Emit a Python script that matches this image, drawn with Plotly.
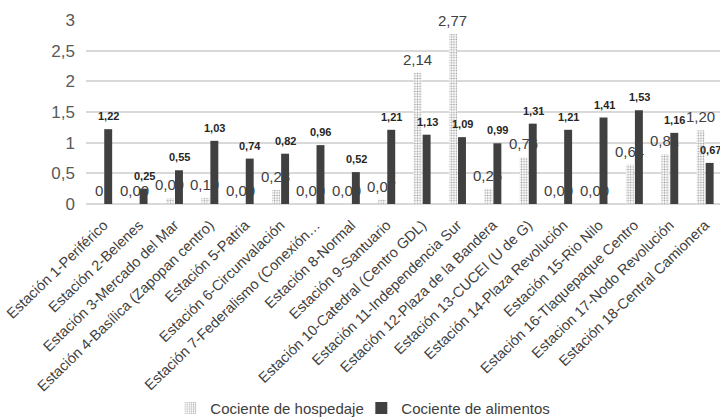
import plotly.graph_objects as go

# Station names along the x axis
stations = [
    "Estación 1-Periférico",
    "Estación 2-Belenes",
    "Estación 3-Mercado del Mar",
    "Estación 4-Basílica (Zapopan centro)",
    "Estación 5-Patria",
    "Estación 6-Circunvalación",
    "Estación 7-Federalismo (Conexión…",
    "Estación 8-Normal",
    "Estación 9-Santuario",
    "Estación 10-Catedral (Centro GDL)",
    "Estación 11-Independencia Sur",
    "Estación 12-Plaza de la Bandera",
    "Estación 13-CUCEI (U de G)",
    "Estación 14-Plaza Revolución",
    "Estación 15-Rio Nilo",
    "Estación 16-Tlaquepaque Centro",
    "Estacion 17-Nodo Revolución",
    "Estación 18-Central Camionera",
]

# Lodging quotient per station
hospedaje = [0, 0.00, 0.09, 0.10, 0.00, 0.23, 0.00, 0.00, 0.07,
             2.14, 2.77, 0.25, 0.76, 0.00, 0.00, 0.64, 0.81, 1.20]
# Number of decimals shown in each lodging label
hospedaje_decimals = [0] + [2] * 17

# Food quotient per station
alimentos = [1.22, 0.25, 0.55, 1.03, 0.74, 0.82, 0.96, 0.52, 1.21,
             1.13, 1.09, 0.99, 1.31, 1.21, 1.41, 1.53, 1.16, 0.67]

y_ticks = [0, 0.5, 1, 1.5, 2, 2.5, 3]


def fmt(v, d=2):
    return f"{v:.{d}f}".replace(".", ",")


FONT = "Liberation Sans, Arial, sans-serif"
DARK = "#404040"

fig = go.Figure()
fig.add_trace(go.Bar(
    name="Cociente de hospedaje",
    x=stations,
    y=hospedaje,
    marker=dict(
        color="white",
        line=dict(width=0),
        pattern=dict(shape=".", fgcolor="#404040", bgcolor="white",
                     size=2.6, solidity=0.35),
    ),
))
fig.add_trace(go.Bar(
    name="Cociente de alimentos",
    x=stations,
    y=alimentos,
    marker=dict(color=DARK, line=dict(width=0)),
))

# Value labels above each bar
annotations = []
for i, (h, a) in enumerate(zip(hospedaje, alimentos)):
    annotations.append(dict(
        x=i, y=h, xref="x", yref="y", xshift=-5, yshift=3,
        yanchor="bottom", showarrow=False,
        text=fmt(h, hospedaje_decimals[i]),
        font=dict(family=FONT, size=15, color=DARK),
    ))
    annotations.append(dict(
        x=i, y=a, xref="x", yref="y", xshift=5, yshift=5,
        yanchor="bottom", showarrow=False,
        text=f"<b>{fmt(a)}</b>",
        font=dict(family=FONT, size=11, color="#262626"),
    ))

fig.update_layout(
    width=720, height=419,
    margin=dict(l=86, r=0, t=20, b=215, autoexpand=False),
    paper_bgcolor="white", plot_bgcolor="white",
    barmode="group", bargap=0.49, bargroupgap=0.12,
    separators=",.",
    font=dict(family=FONT, color=DARK),
    annotations=annotations,
    showlegend=True,
    legend=dict(
        orientation="h", x=0.133, xanchor="left", xref="paper",
        y=-1.11, yanchor="middle",
        font=dict(family=FONT, size=15, color=DARK),
        itemwidth=30, traceorder="normal",
        entrywidth=146, entrywidthmode="pixels",
    ),
    xaxis=dict(
        range=[-0.5, 17.42],
        tickangle=-44,
        tickfont=dict(family=FONT, size=14.5, color=DARK),
        showgrid=False, showline=False, ticks="",
        ticklabelstandoff=9,
        automargin=False,
    ),
    yaxis=dict(
        range=[0, 3],
        tickvals=y_ticks,
        tickfont=dict(family=FONT, size=17, color="#595959"),
        showgrid=True, gridcolor="#d9d9d9", gridwidth=1.5,
        zeroline=True, zerolinecolor="#d9d9d9", zerolinewidth=1.5,
        showline=False, ticks="", ticklabelstandoff=10,
        automargin=False,
    ),
)

fig.write_html("out.html")
